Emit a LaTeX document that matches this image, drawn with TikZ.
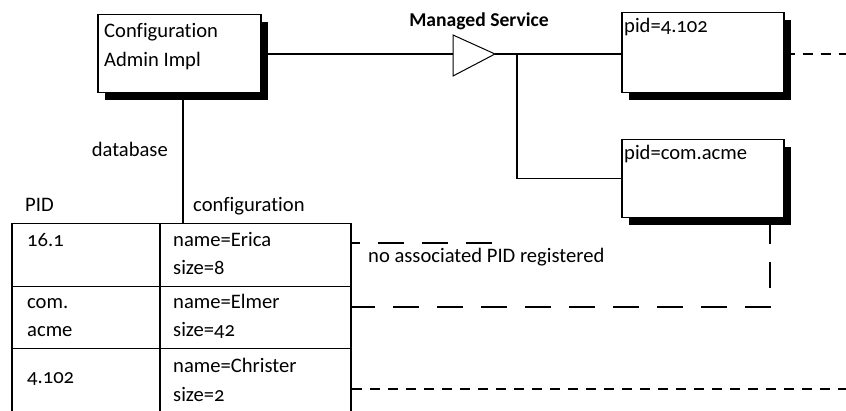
\documentclass[tikz,border=0pt]{standalone}
\usepackage{fontspec}
\setmainfont{Carlito}[Numbers=OldStyle, Ligatures=NoCommon]
\usetikzlibrary{shadows,calc}
\newcommand\twoln[3][28pt]{\vtop{\baselineskip=#1\relax\hbox{#2}\hbox{#3}}}
\tikzset{
  txt/.style={inner sep=0pt, font=\fontsize{20.6}{28}\selectfont},
  shbox/.style={draw, line width=1.5pt, fill=white, inner sep=0pt, anchor=north west,
    general shadow={fill=black, shadow xshift=7pt, shadow yshift=-7pt}},
  conn/.style={line width=1.5pt},
  longdash/.style={line width=1.5pt, dash pattern=on 26pt off 18pt, dash phase=18pt},
  shortdash/.style={line width=1.5pt, dash pattern=on 10pt off 8pt},
  cell/.style={draw, line width=1.5pt, inner sep=0pt, anchor=north west},
}
\begin{document}
\begin{tikzpicture}[x=1pt, y=-1pt]
\fill[white] (0,0) rectangle (846,411);
\useasboundingbox (0,0) rectangle (846,411);

% boxes
\node[shbox, minimum width=163pt, minimum height=78pt] (cfg) at (97,14) {};
\node[shbox, minimum width=162pt, minimum height=80pt] (pidA) at (621,12) {};
\node[shbox, minimum width=162pt, minimum height=78pt] (pidB) at (621,139) {};
\node[txt, anchor=base west] (cfgtext) at (104,38) {\twoln[29pt]{Configuration}{Admin Impl}};
\node[txt, anchor=base west] (pidAtext) at (624,33) {pid=4.102};
\node[txt, anchor=base west] (pidBtext) at (624,160) {pid=com.acme};

% managed service triangle
\coordinate (triL) at (453,54);
\coordinate (triR) at (495,54);
\draw[line width=1pt, fill=white] (453,35) -- (triR) -- (453,76) -- cycle;
\node[txt, anchor=base, font=\fontsize{19.6}{28}\selectfont\bfseries] (ms) at (479,27) {Managed Service};

\draw[conn] (cfg.east |- triL) -- (triL);
\draw[conn] (triR) -- (pidA.west |- triR);
\coordinate (br) at (517,54);
\draw[conn] (br) |- (pidB.west);

% table
\node[cell, minimum width=148pt, minimum height=63pt] (c11) at (11,223) {};
\node[cell, minimum width=191pt, minimum height=63pt] (c12) at (159,223) {};
\node[cell, minimum width=148pt, minimum height=62pt] (c21) at (11,286) {};
\node[cell, minimum width=191pt, minimum height=62pt] (c22) at (159,286) {};
\node[cell, minimum width=148pt, minimum height=85pt] (c31) at (11,348) {};
\node[cell, minimum width=191pt, minimum height=85pt] (c32) at (159,348) {};

\coordinate (tj) at (183,223);
\draw[conn] (cfg.south -| tj) -- (tj);

\node[txt, anchor=base east] (db) at (168,157) {database};
\node[txt, anchor=base west] (pidh) at (25,212) {PID};
\node[txt, anchor=base west] (cfgh) at (193,212) {configuration};

\node[txt, anchor=base west] (t11) at (27,247) {16.1};
\node[txt, anchor=base west] (t12) at (173,247) {\twoln{name=Erica}{size=8}};
\node[txt, anchor=base west] (t21) at (27,309) {\twoln{com.}{acme}};
\node[txt, anchor=base west] (t22) at (173,309) {\twoln{name=Elmer}{size=42}};
\node[txt, anchor=base west] (t31) at (27,384) {4.102};
\node[txt, anchor=base west] (t32) at (173,373) {\twoln[29pt]{name=Christer}{size=2}};

% dashed connectors
\coordinate (n1end) at (497,243);
\draw[longdash] ($(c12.north east)+(0,20)$) -- (n1end);
\node[txt, anchor=base west] (noassoc) at (368,263) {no associated PID registered};
\draw[longdash, dash phase=0pt] ($(pidB.south west)+(149,0)$) |- ($(c22.north east)+(0,21)$);
\coordinate (r3end) at (846,389);
\draw[shortdash] ($(c32.north east)+(0,41)$) -- (r3end);
\coordinate (aend) at (846,54);
\draw[shortdash] (pidA.east |- triR) -- (aend);
\end{tikzpicture}
\end{document}
